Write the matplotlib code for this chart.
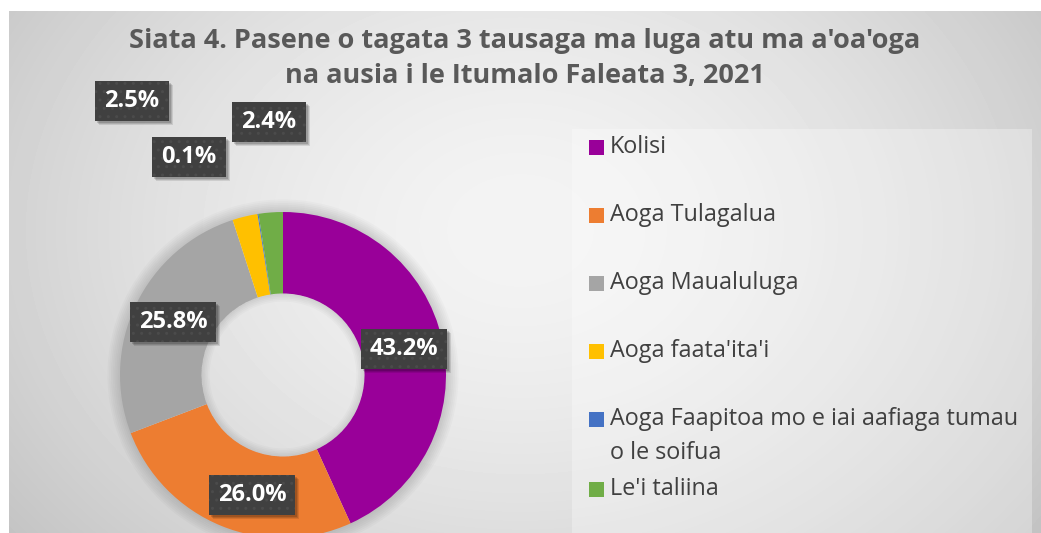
import numpy as np
import matplotlib
matplotlib.use("Agg")
import matplotlib.pyplot as plt
from matplotlib.patches import Rectangle, Wedge

# data
categories = [
    "Kolisi",
    "Aoga Tulagalua",
    "Aoga Maualuluga",
    "Aoga faata'ita'i",
    "Aoga Faapitoa mo e iai aafiaga tumau\no le soifua",
    "Le'i taliina",
]
percents = [43.2, 26.0, 25.8, 2.5, 0.1, 2.4]
colors = ["#990099", "#ED7D31", "#A5A5A5", "#FFC000", "#4472C4", "#70AD47"]
title_lines = [
    "Siata 4. Pasene o tagata 3 tausaga ma luga atu ma a'oa'oga",
    "na ausia i le Itumalo Faleata 3, 2021",
]

# layout (pixels from top-left of the 1041x533 image)
W, H = 1041, 533
cx, cy, R = 283, 375, 163
label_px = [(404, 349), (252, 495), (173, 322), (132, 101), (189, 157), (269, 122)]
legend_y = [147, 215, 283, 351, 419, 489]
title_y = [41, 76]

plt.rcParams["font.family"] = ["Open Sans", "DejaVu Sans"]


def fx(x):
    return x / W


def fy(y):
    return 1 - y / H


fig = plt.figure(figsize=(W / 100, H / 100), dpi=100)

# ---- background with radial gradient ----
bg = fig.add_axes([0, 0, 1, 1])
bg.axis("off")
yy, xx = np.mgrid[0:H, 0:W]
d = np.sqrt(((xx - 520) / 560) ** 2 + ((yy - 230) / 430) ** 2)
g = np.clip(0.955 - 0.15 * d ** 1.6, 0.76, 1.0)
g[:11, :] = 1.0
g[:, :9] = 1.0
bg.imshow(g, cmap="gray", vmin=0, vmax=1, extent=(0, W, H, 0),
          aspect="auto", interpolation="bilinear")
bg.set_xlim(0, W)
bg.set_ylim(H, 0)

# legend panel
bg.add_patch(Rectangle((572, 129), 460, 420, fc="white", alpha=0.3, ec="none"))
for lab, col, y in zip(categories, colors, legend_y):
    bg.add_patch(Rectangle((589, y - 7.5), 15, 15, fc=col, ec="none"))
    for j, line in enumerate(lab.split("\n")):
        bg.text(610, y + 34 * j, line, ha="left", va="center",
                fontsize=16.8, color="#404040")

# title
for line, y in zip(title_lines, title_y):
    fig.text(fx(525), fy(y), line, ha="center", va="center", fontsize=19.5,
             fontweight="bold", color="#595959")

# ---- donut ----
ax = fig.add_axes([(cx - R) / W, 1 - (cy + R) / H, 2 * R / W, 2 * R / H])
for k in range(7):
    ax.add_patch(Wedge((0, 0), 1 + 0.011 * (k + 1), 0, 360,
                       width=0.011 * (k + 1) + 0.01, fc="black",
                       alpha=0.018, ec="none"))
ax.pie(percents, colors=colors, startangle=90, counterclock=False, radius=1,
       wedgeprops=dict(width=0.5, edgecolor="none"))
for k in range(5):
    ax.add_patch(Wedge((0, 0), 0.5, 0, 360, width=0.01 * (k + 1),
                       fc="black", alpha=0.02, ec="none"))
ax.set_xlim(-1, 1)
ax.set_ylim(-1, 1)
ax.axis("off")
for p in ax.patches:
    p.set_clip_on(False)

# data labels: dark patterned boxes sized from the text extent
fig.canvas.draw()
renderer = fig.canvas.get_renderer()
for v, (x, y) in zip(percents, label_px):
    t = fig.text(fx(x), fy(y), f"{v:.1f}%", ha="center", va="center",
                 color="white", fontsize=17, fontweight="bold", zorder=5)
    tw = t.get_window_extent(renderer).width
    bw, bh = tw + 18, 40
    # soft drop shadow
    for s, a in [(4, 0.10), (3, 0.12), (2, 0.15)]:
        fig.add_artist(Rectangle((fx(x - bw / 2 + s), fy(y + bh / 2 + s)),
                                 bw / W, bh / H, transform=fig.transFigure,
                                 fc="black", alpha=a, lw=0, zorder=3))
    fig.add_artist(Rectangle((fx(x - bw / 2), fy(y + bh / 2)), bw / W, bh / H,
                             transform=fig.transFigure, fc="#404040",
                             ec="#4b4b4b", lw=0, hatch="..", zorder=4))

fig.savefig("out.png", dpi=100)
